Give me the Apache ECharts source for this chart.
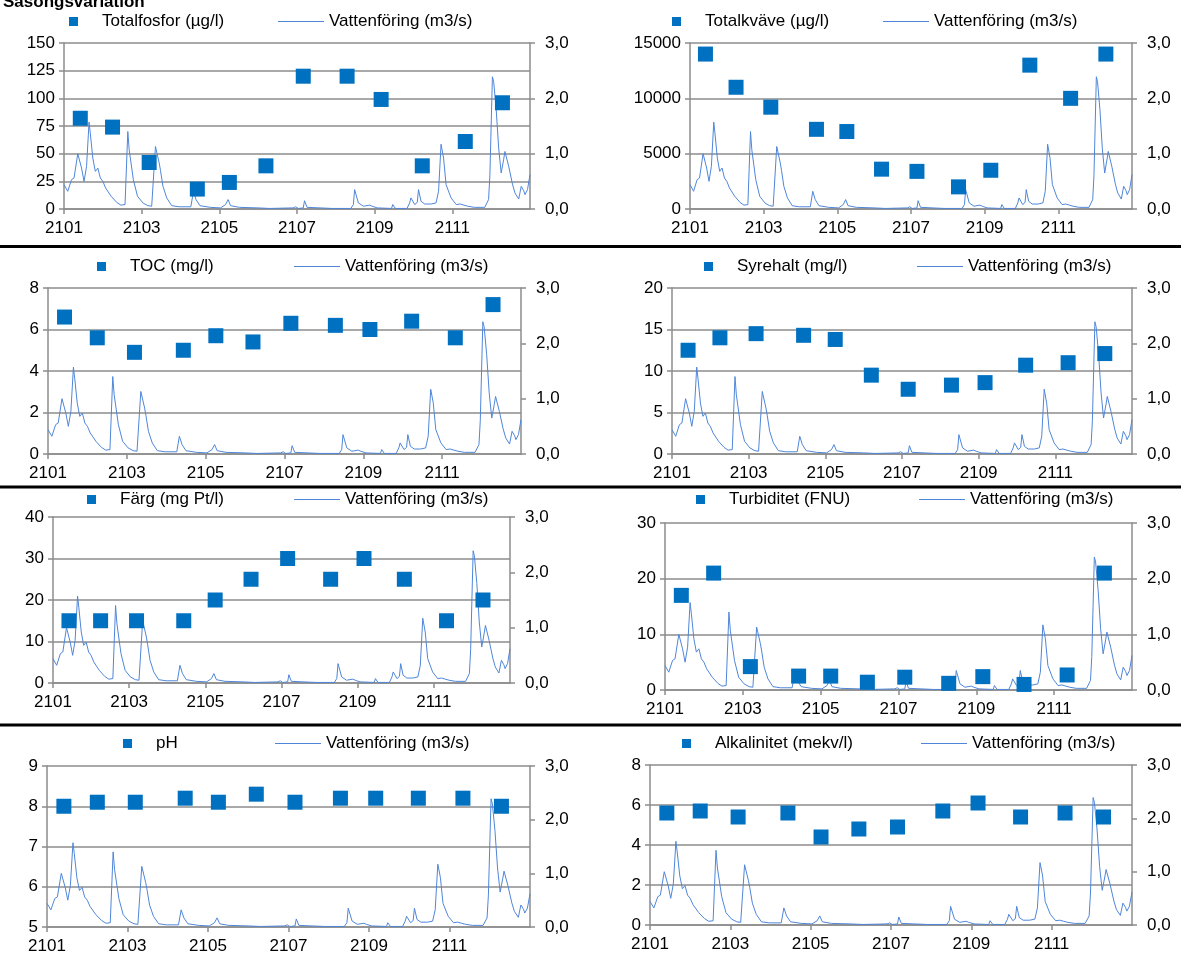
<!DOCTYPE html>
<html>
<head>
<meta charset="utf-8">
<title>Säsongsvariation</title>
<script src="https://cdn.jsdelivr.net/npm/echarts@6/dist/echarts.min.js"></script>
<style>
  html, body { margin: 0; padding: 0; background: #fff; }
  #chart { width: 1181px; height: 961px; }
</style>
</head>
<body>
<div id="chart"></div>
<script>
// ---- data -------------------------------------------------------------
const monthTickLabels = ['2101', '2103', '2105', '2107', '2109', '2111'];
const flowName = 'Vattenföring (m3/s)';

// sampling dates of the water chemistry
const sampleDates = ['2021-01-14', '2021-02-08', '2021-03-07', '2021-04-14', '2021-05-09', '2021-06-07',
                     '2021-07-06', '2021-08-10', '2021-09-06', '2021-10-08', '2021-11-11', '2021-12-10'];

const totalfosfor = [82, 74, 42, 18, 24, 39, 120, 120, 99, 39, 61, 96];
const totalkvave  = [14000, 11000, 9200, 7200, 7000, 3600, 3400, 2000, 3500, 13000, 10000, 14000];
const toc         = [6.6, 5.6, 4.9, 5.0, 5.7, 5.4, 6.3, 6.2, 6.0, 6.4, 5.6, 7.2];
const syrehalt    = [12.5, 14.0, 14.5, 14.3, 13.8, 9.5, 7.8, 8.3, 8.6, 10.7, 11.0, 12.1];
const farg        = [15, 15, 15, 15, 20, 25, 30, 25, 30, 25, 15, 20];
const turbiditet  = [17, 21, 4.2, 2.5, 2.5, 1.4, 2.3, 1.2, 2.4, 1.0, 2.7, 21];
const ph          = [8.0, 8.1, 8.1, 8.2, 8.1, 8.3, 8.1, 8.2, 8.2, 8.2, 8.2, 8.0];
const alkalinitet = [5.6, 5.7, 5.4, 5.6, 4.4, 4.8, 4.9, 5.7, 6.1, 5.4, 5.6, 5.4];

// discharge (m3/s)
const flowDates = [
  '2021-01-01','2021-01-04','2021-01-05','2021-01-07','2021-01-09','2021-01-10','2021-01-12','2021-01-13',
  '2021-01-15','2021-01-17','2021-01-19','2021-01-21','2021-01-22','2021-01-24','2021-01-26','2021-01-28',
  '2021-01-30','2021-02-01','2021-02-03','2021-02-07','2021-02-11','2021-02-14','2021-02-17','2021-02-19',
  '2021-02-20','2021-02-23','2021-02-26','2021-03-02','2021-03-06','2021-03-09','2021-03-10','2021-03-12',
  '2021-03-15','2021-03-16','2021-03-18','2021-03-21','2021-03-25','2021-03-31','2021-04-09','2021-04-11',
  '2021-04-13','2021-04-16','2021-04-24','2021-05-02','2021-05-06','2021-05-08','2021-05-10','2021-05-17',
  '2021-06-01','2021-06-10','2021-06-28','2021-06-30','2021-07-02','2021-07-06','2021-07-07','2021-07-09',
  '2021-07-29','2021-08-13','2021-08-15','2021-08-16','2021-08-19','2021-08-23','2021-08-28','2021-08-30',
  '2021-09-03','2021-09-14','2021-09-15','2021-09-17','2021-09-26','2021-09-28','2021-09-29','2021-10-02',
  '2021-10-04','2021-10-05','2021-10-07','2021-10-10','2021-10-15','2021-10-19','2021-10-21','2021-10-23',
  '2021-10-25','2021-10-27','2021-10-31','2021-11-04','2021-11-07','2021-11-08','2021-11-10','2021-11-13',
  '2021-11-18','2021-11-26','2021-11-29','2021-11-30','2021-12-02','2021-12-03','2021-12-05','2021-12-07',
  '2021-12-09','2021-12-11','2021-12-12','2021-12-13','2021-12-15','2021-12-18','2021-12-20','2021-12-23',
  '2021-12-25','2021-12-27','2021-12-28','2021-12-30','2022-01-01'
];
const flowValues = [
  0.44, 0.32, 0.30, 0.53, 0.56, 0.53, 1.00, 1.00,
  0.74, 0.50, 0.77, 1.57, 1.37, 0.92, 0.68, 0.74,
  0.56, 0.50, 0.38, 0.23, 0.12, 0.07, 0.08, 1.40,
  1.07, 0.53, 0.23, 0.11, 0.06, 0.05, 0.08, 1.13,
  0.83, 0.70, 0.41, 0.20, 0.06, 0.04, 0.04, 0.32,
  0.17, 0.06, 0.03, 0.02, 0.08, 0.17, 0.06, 0.03,
  0.02, 0.01, 0.02, 0.04, 0.01, 0.02, 0.15, 0.03,
  0.01, 0.01, 0.08, 0.35, 0.11, 0.05, 0.07, 0.05,
  0.02, 0.01, 0.08, 0.01, 0.01, 0.11, 0.20, 0.08,
  0.12, 0.35, 0.14, 0.09, 0.09, 0.11, 0.32, 1.17,
  0.92, 0.44, 0.20, 0.08, 0.09, 0.11, 0.07, 0.05,
  0.03, 0.03, 0.17, 0.60, 2.39, 2.30, 1.80, 1.10,
  0.65, 0.90, 1.04, 1.02, 0.77, 0.45, 0.29, 0.18,
  0.41, 0.33, 0.26, 0.35, 0.62
];

// ---- panels: parameter, left-axis scale ------------------------------------
const panels = [
  { name: 'Totalfosfor (µg/l)',    values: totalfosfor, min: 0, max: 150,   step: 25 },
  { name: 'Totalkväve (µg/l)',     values: totalkvave,  min: 0, max: 15000, step: 5000 },
  { name: 'TOC (mg/l)',            values: toc,         min: 0, max: 8,     step: 2 },
  { name: 'Syrehalt (mg/l)',       values: syrehalt,    min: 0, max: 20,    step: 5 },
  { name: 'Färg (mg Pt/l)',        values: farg,        min: 0, max: 40,    step: 10 },
  { name: 'Turbiditet (FNU)',      values: turbiditet,  min: 0, max: 30,    step: 10 },
  { name: 'pH',                    values: ph,          min: 5, max: 9,     step: 1 },
  { name: 'Alkalinitet (mekv/l)',  values: alkalinitet, min: 0, max: 8,     step: 2 }
];

// ---- layout (pixels) -------------------------------------------------
const layout = [
  { left: 64,  top: 43,  right: 530,  bottom: 209, legendY: 23,  sqText: 102, lineLeft: 278 },
  { left: 690, top: 43,  right: 1132, bottom: 209, legendY: 23,  sqText: 705, lineLeft: 883 },
  { left: 48,  top: 288, right: 521,  bottom: 454, legendY: 268, sqText: 130, lineLeft: 294 },
  { left: 672, top: 288, right: 1132, bottom: 454, legendY: 268, sqText: 737, lineLeft: 917 },
  { left: 53,  top: 517, right: 510,  bottom: 683, legendY: 501, sqText: 120, lineLeft: 294 },
  { left: 665, top: 523, right: 1132, bottom: 690, legendY: 501, sqText: 729, lineLeft: 919 },
  { left: 47,  top: 766, right: 530,  bottom: 927, legendY: 745, sqText: 156, lineLeft: 275 },
  { left: 650, top: 765, right: 1132, bottom: 925, legendY: 745, sqText: 715, lineLeft: 921 }
];
const separatorsY = [246.5, 487, 725];

// ---- helpers -----------------------------------------------------------
// date -> month position counted from 1 Jan 2021 (1 unit = one calendar month)
function monthPos(dateStr) {
  const [y, m, d] = dateStr.split('-').map(Number);
  const dim = new Date(y, m, 0).getDate();
  return (y - 2021) * 12 + (m - 1) + (d - 1) / dim;
}
const FONT = '"Liberation Sans", Arial, sans-serif';
const GRID_GREY = '#8c8c8c';
const SQUARE_BLUE = '#0070C0';
const FLOW_BLUE = '#4f86d9';

const flowData = flowDates.map((d, i) => [monthPos(d), flowValues[i]]);

const grid = [], xAxis = [], yAxis = [], series = [], legend = [], graphic = [];

panels.forEach((p, i) => {
  const L = layout[i];
  grid.push({
    left: L.left, top: L.top, width: L.right - L.left, height: L.bottom - L.top,
    containLabel: false, outerBoundsMode: 'none'
  });
  xAxis.push({
    type: 'value', gridIndex: i, min: 0, max: 12, interval: 2,
    axisLine: { show: true, onZero: false, lineStyle: { color: GRID_GREY, width: 1.5 } },
    axisTick: { show: true, inside: false, length: 5, lineStyle: { color: GRID_GREY, width: 1.5 } },
    splitLine: { show: false },
    axisLabel: {
      color: '#000', fontFamily: FONT, fontSize: 17, margin: 11,
      showMaxLabel: false,
      formatter: v => monthTickLabels[Math.round(v / 2)] || ''
    }
  });
  yAxis.push({
    type: 'value', gridIndex: i, position: 'left',
    min: p.min, max: p.max, interval: p.step,
    axisLine: { show: true, lineStyle: { color: GRID_GREY, width: 1.5 } },
    axisTick: { show: true, inside: false, length: 5, lineStyle: { color: GRID_GREY, width: 1.5 } },
    splitLine: { show: true, lineStyle: { color: GRID_GREY, width: 1.5 } },
    axisLabel: { color: '#000', fontFamily: FONT, fontSize: 17, margin: 9, formatter: v => String(v) }
  });
  yAxis.push({
    type: 'value', gridIndex: i, position: 'right',
    min: 0, max: 3, interval: 1,
    axisLine: { show: true, lineStyle: { color: GRID_GREY, width: 1.5 } },
    axisTick: { show: true, inside: false, length: 5, lineStyle: { color: GRID_GREY, width: 1.5 } },
    splitLine: { show: false },
    axisLabel: {
      color: '#000', fontFamily: FONT, fontSize: 17, margin: 15,
      formatter: v => v.toFixed(1).replace('.', ',')
    }
  });
  series.push({
    type: 'line', name: flowName, xAxisIndex: i, yAxisIndex: 2 * i + 1,
    data: flowData, showSymbol: false, symbol: 'none', smooth: false,
    lineStyle: { color: FLOW_BLUE, width: 1 }, itemStyle: { color: FLOW_BLUE },
    z: 2, silent: true
  });
  series.push({
    type: 'scatter', name: p.name, xAxisIndex: i, yAxisIndex: 2 * i,
    data: sampleDates.map((d, k) => [monthPos(d), p.values[k]]),
    symbol: 'rect', symbolSize: 15,
    itemStyle: { color: SQUARE_BLUE, opacity: 1 }, z: 3, silent: true
  });
  legend.push({
    data: [p.name], left: L.sqText - 33, top: L.legendY - 10, padding: 0,
    icon: 'rect', itemWidth: 9, itemHeight: 9, selectedMode: false,
    itemStyle: { color: SQUARE_BLUE, opacity: 1 },
    textStyle: { color: '#000', fontFamily: FONT, fontSize: 17, padding: [0, 0, 0, 19] }
  });
  // thin blue bar as the key for the discharge line
  legend.push({
    data: [flowName], left: L.lineLeft, top: L.legendY - 10, padding: 0,
    icon: 'rect', itemWidth: 46, itemHeight: 1.2, selectedMode: false,
    itemStyle: { color: FLOW_BLUE, opacity: 1 },
    textStyle: { color: '#000', fontFamily: FONT, fontSize: 17 }
  });
});

// horizontal rules between the rows of panels
separatorsY.forEach(y => {
  graphic.push({
    type: 'line', silent: true, z: 10,
    shape: { x1: 0, y1: y, x2: 1181, y2: y },
    style: { stroke: '#000', lineWidth: 3 }
  });
});
graphic.push({
  type: 'text', left: 3, top: -6, silent: true,
  style: { text: 'Säsongsvariation', font: 'bold 17px ' + FONT, fill: '#000' }
});

const chart = echarts.init(document.getElementById('chart'), null, { renderer: 'canvas' });
chart.setOption({
  animation: false,
  backgroundColor: '#fff',
  grid, xAxis, yAxis, series, legend, graphic
});
</script>
</body>
</html>
